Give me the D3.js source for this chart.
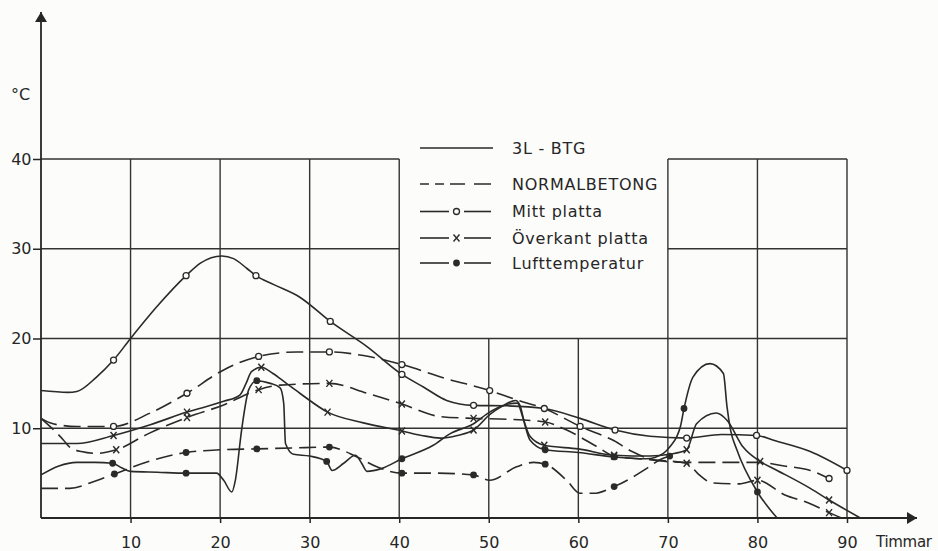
<!DOCTYPE html>
<html>
<head>
<meta charset="utf-8">
<script src="https://cdn.jsdelivr.net/npm/d3@7"></script>
<style>
  body { margin: 0; background: #fcfcfa; }
  svg { display: block; font-family: 'DejaVu Sans', sans-serif; }
  .grid line { stroke: #333; stroke-width: 1.4; }
  .axis-line { stroke: #262626; stroke-width: 1.8; }
  .curve { fill: none; stroke: #2a2a2a; stroke-width: 1.6; }
  .dashed { stroke-dasharray: 17, 7; }
  .label { fill: #262626; font-size: 16px; }
  .legend text { fill: #262626; font-size: 16px; letter-spacing: 0.75px; }
  .mark-o { fill: #fcfcfa; stroke: #2a2a2a; stroke-width: 1.3; }
  .mark-dot { fill: #2a2a2a; }
  .mark-x { stroke: #2a2a2a; stroke-width: 1.4; fill: none; }
</style>
</head>
<body>
<div id="chart"></div>
<script>
const hourTicks = [10, 20, 30, 40, 50, 60, 70, 80, 90]
const tempTicks = [10, 20, 30, 40]

// grid: vertical [hour, top temp], horizontal [temp, from hour, to hour]
const vGrid = [[10, 40], [20, 40], [30, 40], [40, 40], [50, 20], [60, 20], [70, 40], [80, 40], [90, 40]]
const hGrid = [[10, 0, 90], [20, 0, 90], [30, 0, 40], [30, 70, 90], [40, 0, 40], [40, 70, 90]]

// 3L-BTG (solid)
const btgMitt = [[0, 14.2], [3, 14.0], [4, 14.1], [6.2, 15.7], [8.1, 17.6], [10, 20], [12.9, 23.5], [16.2, 27.0], [17.8, 28.4], [20.2, 29.2], [21.5, 28.9], [23, 27.8], [24, 27.0], [26, 26.0], [28.9, 24.6], [32.3, 21.9], [36.4, 19.1], [40.3, 16.0], [42.7, 14.6], [45.3, 13.1], [48.3, 12.55], [52, 12.5], [56.2, 12.2], [60.2, 11.1], [64.1, 9.8], [68, 9.1], [72.1, 8.9], [76, 9.3], [79.9, 9.2], [82, 8.6], [85.9, 7.4], [90, 5.3]]
const btgOver = [[0, 8.3], [4, 8.3], [8.1, 9.2], [12.2, 10.4], [16.3, 11.8], [20.4, 13.0], [22.2, 13.7], [22.9, 15.0], [23.5, 16.3], [24.6, 16.8], [25.9, 16.1], [27.4, 15.0], [28.9, 13.9], [32, 11.8], [36, 10.6], [40.3, 9.7], [42.5, 9.2], [44.6, 8.9], [46.5, 9.2], [48.3, 9.8], [50.2, 11.6], [52.2, 12.7], [53.2, 12.8], [53.8, 11.2], [54.6, 9.1], [56.2, 8.1], [60, 7.7], [64, 7.0], [68, 6.9], [70.2, 7.1], [72.1, 7.6], [73.2, 10.5], [75.4, 11.7], [76.6, 10.9], [78.4, 7.9], [80.3, 6.3], [82.2, 5.3], [85.9, 3.3], [88, 2.0], [91.5, 0]]
const btgLuft = [[0, 4.8], [2, 5.8], [4, 6.2], [6, 6.2], [8, 6.1], [9, 5.6], [10, 5.2], [13, 5.1], [16.2, 5.0], [19.6, 5.0], [20.4, 4.2], [21.3, 2.9], [21.7, 4.2], [22.4, 9.8], [23.2, 14.3], [24.1, 15.3], [25.6, 15.0], [26.7, 14.5], [27.1, 12.8], [27.3, 8.3], [28.2, 7.1], [30, 6.9], [31.9, 6.3], [32.5, 5.3], [33.8, 6.1], [35.1, 7.0], [35.8, 6.1], [36.4, 5.2], [38, 5.5], [40.3, 6.6], [43.8, 8.1], [45.7, 9.4], [48.3, 10.5], [50.1, 11.8], [51.5, 12.5], [53, 13.1], [53.5, 12.5], [54, 10.5], [54.6, 8.7], [56.3, 7.6], [60, 7.3], [64, 6.8], [67.6, 6.6], [69.5, 7.2], [70.2, 7.9], [71.4, 10.2], [71.8, 12.2], [72.8, 15.7], [74.7, 17.2], [76.2, 16.1], [76.6, 12.4], [77, 9.8], [77.7, 7.6], [80, 2.9], [82.2, 0]]

// Normalbetong (dashed)
const nbMitt = [[0, 11.1], [1, 10.6], [2.5, 10.3], [4, 10.2], [6, 10.2], [8.1, 10.2], [12.2, 11.7], [16.3, 13.9], [20.4, 16.5], [24.3, 18.0], [28.6, 18.5], [32.2, 18.5], [36, 18.1], [40.3, 17.1], [45, 15.6], [50.1, 14.2], [53.3, 13.1], [56.2, 12.2], [60.2, 10.2], [64, 8.6], [66, 7.4], [68.8, 6.4], [72, 6.2], [76, 6.2], [80, 6.2], [83, 5.8], [85.9, 5.3], [88, 4.4]]
const nbOver = [[0, 11.1], [1, 10.2], [2.5, 8.7], [3.2, 7.9], [4.5, 7.4], [6.2, 7.2], [8.4, 7.6], [12, 9.4], [16.3, 11.2], [20.4, 12.6], [24.3, 14.3], [26.7, 14.8], [32.2, 15.0], [36.4, 13.9], [40.3, 12.7], [44.6, 11.3], [48.3, 11.1], [52, 11.0], [56.3, 10.7], [58.7, 9.8], [62, 8.0], [64, 6.9], [68, 6.5], [72.1, 6.1], [73.5, 4.8], [75, 3.9], [78, 3.8], [80, 4.2], [83, 2.6], [85.9, 1.6], [88, 0.6], [89.4, 0]]
const nbLuft = [[0, 3.3], [3.2, 3.3], [6, 4.1], [8.2, 4.9], [12, 6.3], [16.2, 7.3], [20, 7.6], [24.1, 7.7], [28, 7.8], [32.2, 7.9], [35.3, 6.8], [37.5, 5.7], [40.3, 5.0], [44, 5.0], [48.3, 4.8], [50.1, 4.2], [53.1, 5.7], [55, 6.2], [56.3, 6.0], [58.7, 4.2], [60.2, 2.75], [61.7, 2.75], [64, 3.5], [67.6, 5.5], [69.1, 6.5], [70.2, 6.9]]

// hours where a symbol sits on each curve
const btgMittMarks = [8.1, 16.2, 24, 32.3, 40.3, 48.3, 56.2, 64.1, 72.1, 79.9, 90]
const btgOverMarks = [8.1, 16.3, 24.6, 32, 40.3, 48.3, 56.2, 64, 72.1, 80.3, 88]
const btgLuftMarks = [8, 16.2, 24.1, 31.9, 40.3, 56.3, 64, 71.8, 80]
const nbMittMarks = [8.1, 16.3, 24.3, 32.2, 40.3, 50.1, 60.2, 88]
const nbOverMarks = [8.4, 16.3, 24.3, 32.2, 40.3, 48.3, 56.3, 64, 72.1, 80, 88]
const nbLuftMarks = [8.2, 16.2, 24.1, 32.2, 40.3, 48.3, 56.3, 64, 70.2]

const legendLabels = ['3L - BTG', 'NORMALBETONG', 'Mitt platta', 'Överkant platta', 'Lufttemperatur']
const legendSymbols = ['solid', 'dashed', 'o', 'x', 'dot']

const svg = d3.select('#chart')
  .append('svg')
  .attr('width', 938)
  .attr('height', 551)

const x = d3.scaleLinear().domain([0, 90]).range([41, 847])
const y = d3.scaleLinear().domain([0, 40]).range([518, 159])

svg.append('defs')
  .append('marker')
  .attr('id', 'arrow')
  .attr('viewBox', '0 0 10 12')
  .attr('refX', 10)
  .attr('refY', 6)
  .attr('markerWidth', 10)
  .attr('markerHeight', 12)
  .attr('markerUnits', 'userSpaceOnUse')
  .attr('orient', 'auto')
  .append('path')
  .attr('d', 'M 0 0 L 10 6 L 0 12 z')
  .style('fill', '#262626')

// grid
const grid = svg.append('g').attr('class', 'grid')
grid.selectAll('.v')
  .data(vGrid)
  .enter()
  .append('line')
  .attr('x1', (d) => x(d[0]))
  .attr('x2', (d) => x(d[0]))
  .attr('y1', y(0))
  .attr('y2', (d) => y(d[1]))
grid.selectAll('.h')
  .data(hGrid)
  .enter()
  .append('line')
  .attr('x1', (d) => x(d[1]))
  .attr('x2', (d) => x(d[2]))
  .attr('y1', (d) => y(d[0]))
  .attr('y2', (d) => y(d[0]))

// axes with arrows
svg.append('line')
  .attr('class', 'axis-line')
  .attr('x1', x(0)).attr('y1', y(0))
  .attr('x2', x(0)).attr('y2', 12)
  .attr('marker-end', 'url(#arrow)')
svg.append('line')
  .attr('class', 'axis-line')
  .attr('x1', x(0)).attr('y1', y(0))
  .attr('x2', 917).attr('y2', y(0))
  .attr('marker-end', 'url(#arrow)')

const xAxis = svg.append('g')
  .attr('transform', `translate(0, ${y(0)})`)
  .call(d3.axisBottom(x).tickValues(hourTicks).tickSize(5).tickPadding(14))
const yAxis = svg.append('g')
  .attr('transform', `translate(${x(0)}, 0)`)
  .call(d3.axisLeft(y).tickValues(tempTicks).tickSize(8).tickPadding(1.5))
for (const ax of [xAxis, yAxis]) {
  ax.select('.domain').remove()
  ax.selectAll('line').style('stroke', '#262626').style('stroke-width', 1.5)
  ax.selectAll('text')
    .style('font-family', "'DejaVu Sans', sans-serif")
    .style('font-size', '16px')
    .style('fill', '#262626')
}

svg.append('text').attr('class', 'label').attr('x', 11).attr('y', 100).text('°C')
svg.append('text').attr('class', 'label').attr('x', 876).attr('y', 547)
  .style('font-size', '15px').style('letter-spacing', '-0.3px').text('Timmar')

// curves
const line = d3.line()
  .x((d) => x(d[0]))
  .y((d) => y(d[1]))
  .curve(d3.curveMonotoneX)

const series = [
  { data: btgMitt, marks: btgMittMarks, symbol: 'o', dashed: false },
  { data: btgOver, marks: btgOverMarks, symbol: 'x', dashed: false },
  { data: btgLuft, marks: btgLuftMarks, symbol: 'dot', dashed: false },
  { data: nbMitt, marks: nbMittMarks, symbol: 'o', dashed: true },
  { data: nbOver, marks: nbOverMarks, symbol: 'x', dashed: true },
  { data: nbLuft, marks: nbLuftMarks, symbol: 'dot', dashed: true }
]

function drawSymbol (g, symbol, cx, cy) {
  if (symbol === 'o') {
    g.append('circle').attr('class', 'mark-o').attr('cx', cx).attr('cy', cy).attr('r', 3)
  } else if (symbol === 'dot') {
    g.append('circle').attr('class', 'mark-dot').attr('cx', cx).attr('cy', cy).attr('r', 3.4)
  } else {
    g.append('path')
      .attr('class', 'mark-x')
      .attr('d', `M${cx - 3},${cy - 3.5}L${cx + 3},${cy + 3.5}M${cx + 3},${cy - 3.5}L${cx - 3},${cy + 3.5}`)
  }
}

const curves = svg.append('g')
series.forEach((s) => {
  curves.append('path')
    .attr('class', s.dashed ? 'curve dashed' : 'curve')
    .attr('d', line(s.data))
})
const marks = svg.append('g')
series.forEach((s) => {
  s.marks.forEach((h) => {
    const p = s.data.find((d) => d[0] === h)
    if (p) drawSymbol(marks, s.symbol, x(p[0]), y(p[1]))
  })
})

// legend
const legendY = [148, 184, 211.5, 238, 263]
const legend = svg.append('g').attr('class', 'legend')
legendLabels.forEach((label, i) => {
  const ly = legendY[i]
  const sym = legendSymbols[i]
  const row = legend.append('g')
  if (sym === 'solid') {
    row.append('line').attr('class', 'curve').attr('x1', 420).attr('x2', 493).attr('y1', ly).attr('y2', ly)
  } else if (sym === 'dashed') {
    row.append('line').attr('class', 'curve')
      .style('stroke-dasharray', '9,6,9,6,15,9,19')
      .attr('x1', 420).attr('x2', 491).attr('y1', ly).attr('y2', ly)
  } else {
    row.append('line').attr('class', 'curve').attr('x1', 420).attr('x2', 449).attr('y1', ly).attr('y2', ly)
    row.append('line').attr('class', 'curve').attr('x1', 464).attr('x2', 491).attr('y1', ly).attr('y2', ly)
    drawSymbol(row, sym, 456.5, ly)
  }
  row.append('text')
    .attr('x', 512)
    .attr('y', ly)
    .attr('dy', '0.36em')
    .text(label)
})
</script>
</body>
</html>
